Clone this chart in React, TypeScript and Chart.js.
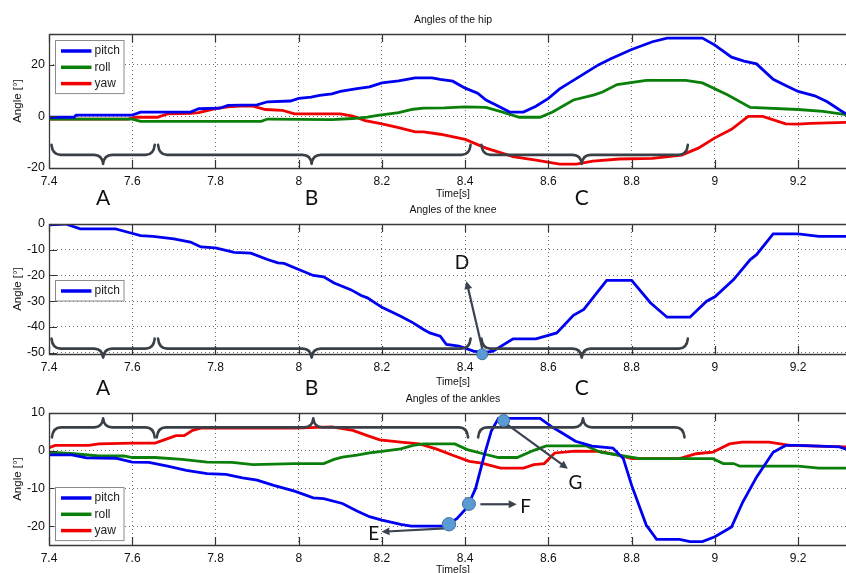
import React, { useEffect, useRef } from 'react';
import { Chart, registerables } from 'chart.js';

Chart.register(...registerables);

// ---------- axes ----------
const X_MIN = 7.4;
const X_MAX = 9.315;
const xTicks = [7.4, 7.6, 7.8, 8, 8.2, 8.4, 8.6, 8.8, 9, 9.2];
const xTickLabels = ['7.4', '7.6', '7.8', '8', '8.2', '8.4', '8.6', '8.8', '9', '9.2'];
const hipYTicks = [-20, 0, 20];
const kneeYTicks = [-50, -40, -30, -20, -10, 0];
const ankleYTicks = [-20, -10, 0, 10];

const seriesNames = ['pitch', 'roll', 'yaw'];
const seriesColors = ['#0000f0', '#0a800a', '#f00000'];

// ---------- hip ----------
const hipPitchT = [7.4, 7.46, 7.465, 7.6, 7.62, 7.74, 7.76, 7.81, 7.83, 7.9, 7.925, 7.98, 8.0, 8.03, 8.05, 8.08, 8.1, 8.14, 8.17, 8.2, 8.24, 8.28, 8.32, 8.34, 8.37, 8.4, 8.43, 8.45, 8.48, 8.507, 8.54, 8.57, 8.6, 8.627, 8.66, 8.69, 8.72, 8.75, 8.8, 8.85, 8.885, 8.97, 9.0, 9.04, 9.07, 9.1, 9.14, 9.17, 9.2, 9.24, 9.27, 9.3, 9.315];
const hipPitchV = [-0.3, -0.3, 0.5, 0.5, 1.7, 1.7, 3.0, 3.2, 4.3, 4.5, 5.7, 6.0, 7.0, 7.5, 8.2, 8.8, 9.7, 10.8, 11.5, 13.0, 13.8, 15.0, 15.0, 14.4, 13.7, 11.0, 9.0, 6.4, 4.0, 1.7, 1.7, 4.0, 7.0, 10.7, 14.0, 17.0, 20.0, 22.4, 26.0, 29.0, 30.4, 30.4, 27.7, 23.0, 21.5, 20.4, 14.4, 12.0, 9.7, 8.0, 5.7, 2.5, 1.0];
const hipRollT = [7.4, 7.6, 7.62, 7.91, 7.925, 8.08, 8.13, 8.165, 8.19, 8.24, 8.275, 8.3, 8.35, 8.4, 8.45, 8.49, 8.53, 8.58, 8.61, 8.66, 8.71, 8.73, 8.765, 8.835, 8.93, 8.97, 9.03, 9.085, 9.2, 9.26, 9.315];
const hipRollV = [-1.0, -1.0, -1.9, -1.9, -1.0, -1.2, -0.8, -0.3, 0.4, 1.5, 2.8, 3.2, 3.3, 3.7, 3.5, 1.7, -0.3, -0.3, 1.7, 6.4, 8.4, 9.5, 12.4, 14.0, 14.0, 13.0, 8.4, 3.5, 2.7, 2.0, 0.7];
const hipYawT = [7.4, 7.59, 7.61, 7.66, 7.685, 7.74, 7.76, 7.8, 7.83, 7.86, 7.89, 7.92, 7.96, 7.99, 8.1, 8.13, 8.16, 8.2, 8.24, 8.28, 8.3, 8.34, 8.4, 8.45, 8.515, 8.57, 8.627, 8.667, 8.707, 8.77, 8.85, 8.92, 8.96, 9.0, 9.04, 9.08, 9.115, 9.17, 9.2, 9.23, 9.315];
const hipYawV = [-1.0, -1.0, -0.3, -0.3, 1.0, 1.2, 1.5, 3.0, 3.7, 4.0, 4.0, 2.7, 2.4, 1.0, 1.0, 0.1, -1.6, -2.9, -4.3, -6.0, -6.0, -6.9, -8.9, -12.3, -15.6, -16.9, -18.5, -18.5, -17.3, -16.5, -16.3, -15.0, -12.3, -8.3, -5.0, 0.0, 0.0, -2.9, -3.0, -2.7, -2.3];

// ---------- knee ----------
const kneePitchT = [7.4, 7.44, 7.475, 7.56, 7.59, 7.62, 7.65, 7.7, 7.74, 7.765, 7.8, 7.845, 7.885, 7.925, 7.95, 7.965, 8.0, 8.035, 8.06, 8.085, 8.125, 8.15, 8.165, 8.19, 8.2, 8.245, 8.275, 8.3, 8.315, 8.34, 8.355, 8.385, 8.42, 8.443, 8.467, 8.515, 8.57, 8.62, 8.66, 8.685, 8.74, 8.8, 8.845, 8.885, 8.94, 8.98, 9.0, 9.045, 9.085, 9.1, 9.14, 9.2, 9.25, 9.315];
const kneePitchV = [-0.3, 0.0, -1.9, -1.9, -3.2, -4.5, -4.8, -5.8, -7.0, -8.9, -9.3, -11.0, -11.3, -13.8, -15.1, -15.3, -17.7, -20.0, -20.5, -22.9, -25.5, -27.8, -28.7, -31.3, -32.3, -35.8, -38.4, -41.0, -42.3, -43.6, -46.8, -47.4, -49.4, -50.0, -49.4, -44.6, -44.6, -42.3, -35.5, -33.2, -21.9, -21.9, -30.6, -36.2, -36.2, -30.0, -28.3, -21.6, -13.8, -11.9, -3.8, -3.8, -4.8, -4.8];

// ---------- ankles ----------
const anklePitchT = [7.4, 7.455, 7.49, 7.56, 7.6, 7.64, 7.685, 7.73, 7.78, 7.825, 7.865, 7.9, 7.94, 7.99, 8.035, 8.06, 8.105, 8.14, 8.17, 8.2, 8.245, 8.27, 8.35, 8.38, 8.405, 8.425, 8.447, 8.463, 8.48, 8.58, 8.61, 8.63, 8.665, 8.705, 8.755, 8.78, 8.8, 8.835, 8.86, 8.915, 8.94, 8.97, 9.0, 9.04, 9.067, 9.1, 9.14, 9.17, 9.2, 9.3, 9.315];
const anklePitchV = [-1.1, -1.1, -1.9, -2.0, -3.0, -3.1, -4.1, -5.2, -6.1, -6.3, -7.2, -7.8, -9.2, -10.7, -12.5, -12.7, -14.0, -16.0, -17.5, -18.4, -19.5, -20.0, -20.0, -18.0, -15.0, -10.0, -0.8, 5.3, 8.6, 8.6, 6.2, 4.9, 2.5, 1.2, 0.7, -2.1, -9.2, -19.7, -23.5, -23.5, -24.1, -24.1, -22.8, -20.2, -13.6, -7.0, -0.4, 1.4, 1.4, 1.0, 0.4];
const ankleRollT = [7.4, 7.46, 7.52, 7.58, 7.6, 7.655, 7.72, 7.78, 7.84, 7.89, 7.99, 8.06, 8.085, 8.105, 8.14, 8.17, 8.2, 8.245, 8.275, 8.3, 8.375, 8.405, 8.45, 8.48, 8.525, 8.565, 8.595, 8.69, 8.725, 8.78, 8.82, 8.995, 9.02, 9.045, 9.06, 9.2, 9.25, 9.315];
const ankleRollV = [-0.4, -0.8, -1.4, -1.4, -1.8, -1.8, -2.3, -3.0, -3.1, -3.7, -3.4, -3.4, -2.3, -1.7, -1.2, -0.6, -0.2, 0.5, 1.4, 1.8, 1.8, 0.3, -1.0, -1.8, -1.8, 0.1, 1.3, 1.3, -0.4, -1.4, -2.1, -2.1, -3.4, -3.4, -4.1, -4.1, -4.6, -4.6];
const ankleYawT = [7.4, 7.415, 7.495, 7.52, 7.6, 7.655, 7.685, 7.705, 7.725, 7.745, 7.765, 7.99, 8.08, 8.13, 8.165, 8.195, 8.245, 8.29, 8.33, 8.37, 8.41, 8.44, 8.485, 8.54, 8.565, 8.59, 8.615, 8.665, 8.72, 8.77, 8.8, 8.915, 8.955, 8.995, 9.035, 9.065, 9.13, 9.18, 9.315];
const ankleYawV = [0.8, 1.4, 1.4, 1.8, 2.0, 2.0, 3.2, 4.0, 4.0, 5.4, 6.0, 6.0, 6.3, 5.4, 4.0, 2.9, 2.3, 1.8, 0.5, -1.2, -2.8, -3.3, -4.6, -4.6, -3.7, -3.4, -0.6, -0.1, -0.2, -1.2, -2.1, -2.1, -0.8, -0.4, 1.8, 2.3, 2.3, 1.4, 1.0];

// ---------- annotations (data coordinates) ----------
const phaseLetters = ['A', 'B', 'C'];
const braceStart = [7.406, 7.662, 8.439];
const braceTip = [7.53, 8.031, 8.68];
const braceEnd = [7.654, 8.413, 8.935];
const ankleBraceStart = [7.407, 7.659, 8.431];
const ankleBraceTip = [7.53, 8.035, 8.683];
const ankleBraceEnd = [7.654, 8.407, 8.927];

const kneeMarkLabels = ['D'];
const kneeMarkT = [8.441];
const kneeMarkV = [-50.6];
const kneeMarkR = [5.5];
const kneeArrowFrom = [[8.4413, -48.7]];
const kneeArrowTo = [[8.403, -22.2]];
const kneeLabelAt = [[8.392, -15.0]];

const ankleMarkT = [8.361, 8.409, 8.4924];
const ankleMarkV = [-19.5, -14.1, 8.0];
const ankleMarkR = [6.7, 6.5, 6.0];
const ankleMarkLabels = ['E', 'F', 'G'];
const ankleArrowFrom = [[8.3508, -20.6], [8.4365, -14.2], [8.499, 7.1]];
const ankleArrowTo = [[8.1988, -21.5], [8.5237, -14.2], [8.6468, -4.75]];
const ankleLabelAt = [[8.18, -22.1], [8.545, -15.0], [8.665, -8.5]];

const TICK_FONT = "'Liberation Sans', Arial, sans-serif";
const BRACE_COLOR = '#3a4048';
const ARROW_COLOR = '#3b4350';

type Series = { name: string; color: string; t: number[]; v: number[] };
type Panel = {
  title: string;
  canvasTop: number;
  canvasH: number;
  areaTop: number;
  areaBottom: number;
  yMin: number;
  yMax: number;
  yTicks: number[];
  series: Series[];
  legendTop: number;
  braces: { s: number[]; t: number[]; e: number[] };
  braceY: number;
  braceDir: number;
  letterDy: number | null;
  timeDy: number;
  marks: { t: number[]; v: number[]; r: number[]; labels: string[]; from: number[][]; to: number[][]; at: number[][] } | null;
};

const panels: Panel[] = [
  {
    title: 'Angles of the hip',
    canvasTop: 0, canvasH: 215, areaTop: 34, areaBottom: 168,
    yMin: -20, yMax: 32, yTicks: hipYTicks,
    series: [
      { name: seriesNames[0], color: seriesColors[0], t: hipPitchT, v: hipPitchV },
      { name: seriesNames[1], color: seriesColors[1], t: hipRollT, v: hipRollV },
      { name: seriesNames[2], color: seriesColors[2], t: hipYawT, v: hipYawV },
    ],
    legendTop: 6,
    braces: { s: braceStart, t: braceTip, e: braceEnd }, braceY: -14.9, braceDir: 1,
    letterDy: 30, timeDy: 26, marks: null,
  },
  {
    title: 'Angles of the knee',
    canvasTop: 200, canvasH: 205, areaTop: 24, areaBottom: 154,
    yMin: -50.5, yMax: 0, yTicks: kneeYTicks,
    series: [{ name: seriesNames[0], color: seriesColors[0], t: kneePitchT, v: kneePitchV }],
    legendTop: 56,
    braces: { s: braceStart, t: braceTip, e: braceEnd }, braceY: -48.4, braceDir: 1,
    letterDy: 34.5, timeDy: 28.5,
    marks: { t: kneeMarkT, v: kneeMarkV, r: kneeMarkR, labels: kneeMarkLabels, from: kneeArrowFrom, to: kneeArrowTo, at: kneeLabelAt },
  },
  {
    title: 'Angles of the ankles',
    canvasTop: 385, canvasH: 188, areaTop: 28, areaBottom: 160,
    yMin: -25, yMax: 10, yTicks: ankleYTicks,
    series: [
      { name: seriesNames[0], color: seriesColors[0], t: anklePitchT, v: anklePitchV },
      { name: seriesNames[1], color: seriesColors[1], t: ankleRollT, v: ankleRollV },
      { name: seriesNames[2], color: seriesColors[2], t: ankleYawT, v: ankleYawV },
    ],
    legendTop: 74,
    braces: { s: ankleBraceStart, t: ankleBraceTip, e: ankleBraceEnd }, braceY: 6.2, braceDir: -1,
    letterDy: null, timeDy: 25,
    marks: { t: ankleMarkT, v: ankleMarkV, r: ankleMarkR, labels: ankleMarkLabels, from: ankleArrowFrom, to: ankleArrowTo, at: ankleLabelAt },
  },
];

function drawBrace(ctx: CanvasRenderingContext2D, x0: number, x1: number, xt: number, y: number, dir: number) {
  const endH = 10, tipH = 9, r = 9;
  ctx.beginPath();
  ctx.moveTo(x0, y - dir * endH);
  ctx.quadraticCurveTo(x0 + 1, y, x0 + r, y);
  ctx.lineTo(xt - r, y);
  ctx.quadraticCurveTo(xt - 1, y, xt, y + dir * tipH);
  ctx.quadraticCurveTo(xt + 1, y, xt + r, y);
  ctx.lineTo(x1 - r, y);
  ctx.quadraticCurveTo(x1 - 1, y, x1, y - dir * endH);
  ctx.stroke();
}

function drawArrow(ctx: CanvasRenderingContext2D, x1: number, y1: number, x2: number, y2: number) {
  const a = Math.atan2(y2 - y1, x2 - x1);
  const L = 8, W = 4;
  ctx.beginPath();
  ctx.moveTo(x1, y1);
  ctx.lineTo(x2 - L * 0.7 * Math.cos(a), y2 - L * 0.7 * Math.sin(a));
  ctx.stroke();
  ctx.beginPath();
  ctx.moveTo(x2, y2);
  ctx.lineTo(x2 - L * Math.cos(a) + W * Math.sin(a), y2 - L * Math.sin(a) - W * Math.cos(a));
  ctx.lineTo(x2 - L * Math.cos(a) - W * Math.sin(a), y2 - L * Math.sin(a) + W * Math.cos(a));
  ctx.closePath();
  ctx.fill();
}

function decorPlugin(panel: Panel) {
  return {
    id: 'decor',
    afterDraw(chart: any) {
      const { ctx, chartArea: ca, scales } = chart;
      const xs = scales.x, ys = scales.y;
      ctx.save();

      // inner tick marks
      ctx.strokeStyle = '#333';
      ctx.lineWidth = 1.2;
      ctx.beginPath();
      xTicks.forEach((v) => {
        const px = Math.round(xs.getPixelForValue(v)) + 0.5;
        ctx.moveTo(px, ca.top); ctx.lineTo(px, ca.top + 8);
        ctx.moveTo(px, ca.bottom - 8); ctx.lineTo(px, ca.bottom);
      });
      panel.yTicks.forEach((v) => {
        const py = Math.round(ys.getPixelForValue(v)) + 0.5;
        ctx.moveTo(ca.left, py); ctx.lineTo(ca.left + 8, py);
      });
      ctx.stroke();

      // frame
      ctx.strokeStyle = '#3a3a3a';
      ctx.lineWidth = 1.3;
      ctx.beginPath();
      ctx.moveTo(ca.right, ca.top + 0.5);
      ctx.lineTo(ca.left + 0.5, ca.top + 0.5);
      ctx.lineTo(ca.left + 0.5, ca.bottom + 0.5);
      ctx.lineTo(ca.right, ca.bottom + 0.5);
      ctx.stroke();

      // legend
      const n = panel.series.length;
      const lx = ca.left + 5.5, ly = ca.top + panel.legendTop;
      const lw = 68.5, lh = 11 + (n - 1) * 16.3 + 9.5;
      ctx.fillStyle = '#fff';
      ctx.fillRect(lx, ly, lw, lh);
      ctx.strokeStyle = '#8a8a8a';
      ctx.lineWidth = 1;
      ctx.strokeRect(Math.round(lx) + 0.5, Math.round(ly) + 0.5, lw, lh);
      ctx.font = `12px ${TICK_FONT}`;
      ctx.textBaseline = 'middle';
      ctx.textAlign = 'left';
      panel.series.forEach((s, i) => {
        const yy = ly + 11 + i * 16.3;
        ctx.strokeStyle = s.color;
        ctx.lineWidth = 3.5;
        ctx.beginPath();
        ctx.moveTo(lx + 6.5, yy); ctx.lineTo(lx + 37, yy);
        ctx.stroke();
        ctx.fillStyle = '#222';
        ctx.fillText(s.name, lx + 40, yy);
      });

      // braces
      ctx.strokeStyle = BRACE_COLOR;
      ctx.lineWidth = 2.6;
      ctx.lineCap = 'round';
      ctx.lineJoin = 'round';
      const by = ys.getPixelForValue(panel.braceY);
      panel.braces.s.forEach((s, i) => {
        drawBrace(ctx, xs.getPixelForValue(s), xs.getPixelForValue(panel.braces.e[i]), xs.getPixelForValue(panel.braces.t[i]), by, panel.braceDir);
      });

      // phase letters
      if (panel.letterDy !== null) {
        ctx.fillStyle = '#111';
        ctx.font = `21px Lato, 'Liberation Sans', sans-serif`;
        ctx.textAlign = 'center';
        ctx.textBaseline = 'middle';
        panel.braces.t.forEach((t, i) => {
          ctx.fillText(phaseLetters[i], xs.getPixelForValue(t), ca.bottom + (panel.letterDy as number));
        });
      }

      // marks, arrows, labels
      if (panel.marks) {
        const m = panel.marks;
        ctx.strokeStyle = ARROW_COLOR;
        ctx.fillStyle = ARROW_COLOR;
        ctx.lineWidth = 2.2;
        ctx.lineCap = 'butt';
        m.from.forEach((f, i) => {
          drawArrow(ctx, xs.getPixelForValue(f[0]), ys.getPixelForValue(f[1]), xs.getPixelForValue(m.to[i][0]), ys.getPixelForValue(m.to[i][1]));
        });
        m.t.forEach((t, i) => {
          ctx.beginPath();
          ctx.arc(xs.getPixelForValue(t), ys.getPixelForValue(m.v[i]), m.r[i], 0, Math.PI * 2);
          ctx.fillStyle = '#5b9bd5';
          ctx.fill();
          ctx.strokeStyle = '#41719c';
          ctx.lineWidth = 1;
          ctx.stroke();
        });
        ctx.fillStyle = '#111';
        ctx.font = `19px Lato, 'Liberation Sans', sans-serif`;
        ctx.textAlign = 'center';
        ctx.textBaseline = 'middle';
        m.at.forEach((p, i) => {
          ctx.fillText(m.labels[i], xs.getPixelForValue(p[0]), ys.getPixelForValue(p[1]));
        });
      }

      // titles and axis labels
      ctx.fillStyle = '#111';
      ctx.font = `10.5px ${TICK_FONT}`;
      ctx.textAlign = 'center';
      ctx.textBaseline = 'middle';
      ctx.fillText(panel.title, 453, ca.top - 13.5);
      ctx.fillText('Time[s]', 453, ca.bottom + panel.timeDy);

      ctx.save();
      ctx.translate(18, (ca.top + ca.bottom) / 2);
      ctx.rotate(-Math.PI / 2);
      ctx.font = `11.5px ${TICK_FONT}`;
      ctx.fillText('Angle [\u00b0]', 0, 0);
      ctx.restore();

      ctx.restore();
    },
  };
}

function makeConfig(panel: Panel): any {
  return {
    type: 'line',
    data: {
      datasets: panel.series.map((s) => ({
        label: s.name,
        data: s.t.map((t, i) => ({ x: t, y: s.v[i] })),
        borderColor: s.color,
        backgroundColor: s.color,
        borderWidth: 2.8,
        pointRadius: 0,
        tension: 0,
        fill: false,
      })),
    },
    options: {
      responsive: false,
      animation: false,
      events: [],
      layout: { padding: { top: panel.areaTop, left: 0, right: 0, bottom: 0 } },
      plugins: { legend: { display: false }, title: { display: false }, tooltip: { enabled: false } },
      scales: {
        x: {
          type: 'linear',
          min: X_MIN,
          max: X_MAX,
          afterBuildTicks: (s: any) => { s.ticks = xTicks.map((v) => ({ value: v })); },
          afterFit: (s: any) => { s.height = panel.canvasH - panel.areaBottom; },
          ticks: {
            callback: (_v: any, i: number) => xTickLabels[i],
            font: { family: TICK_FONT, size: 12 },
            color: '#111',
            padding: 6,
            maxRotation: 0,
            autoSkip: false,
          },
          grid: { color: '#6e6e6e', lineWidth: 1, drawTicks: false },
          border: { display: false, dash: [1, 3] },
        },
        y: {
          type: 'linear',
          min: panel.yMin,
          max: panel.yMax,
          afterBuildTicks: (s: any) => { s.ticks = panel.yTicks.map((v) => ({ value: v })); },
          afterFit: (s: any) => { s.width = 49; },
          ticks: {
            callback: (v: any) => String(v),
            font: { family: TICK_FONT, size: 12.5 },
            color: '#111',
            padding: 4,
            autoSkip: false,
          },
          grid: { color: '#6e6e6e', lineWidth: 1, drawTicks: false },
          border: { display: false, dash: [1, 3] },
        },
      },
    },
    plugins: [decorPlugin(panel)],
  };
}

export default function App() {
  const refs = useRef<(HTMLCanvasElement | null)[]>([]);
  useEffect(() => {
    const charts = panels.map((p, i) => new Chart(refs.current[i] as HTMLCanvasElement, makeConfig(p)));
    return () => charts.forEach((c) => c.destroy());
  }, []);
  return (
    <div style={{ position: 'absolute', left: 0, top: 0, width: 846, height: 573, background: '#fff', overflow: 'hidden' }}>
      {panels.map((p, i) => (
        <canvas
          key={i}
          ref={(el) => { refs.current[i] = el; }}
          width={846}
          height={p.canvasH}
          style={{ position: 'absolute', left: 0, top: p.canvasTop, width: 846, height: p.canvasH, display: 'block' }}
        />
      ))}
    </div>
  );
}
